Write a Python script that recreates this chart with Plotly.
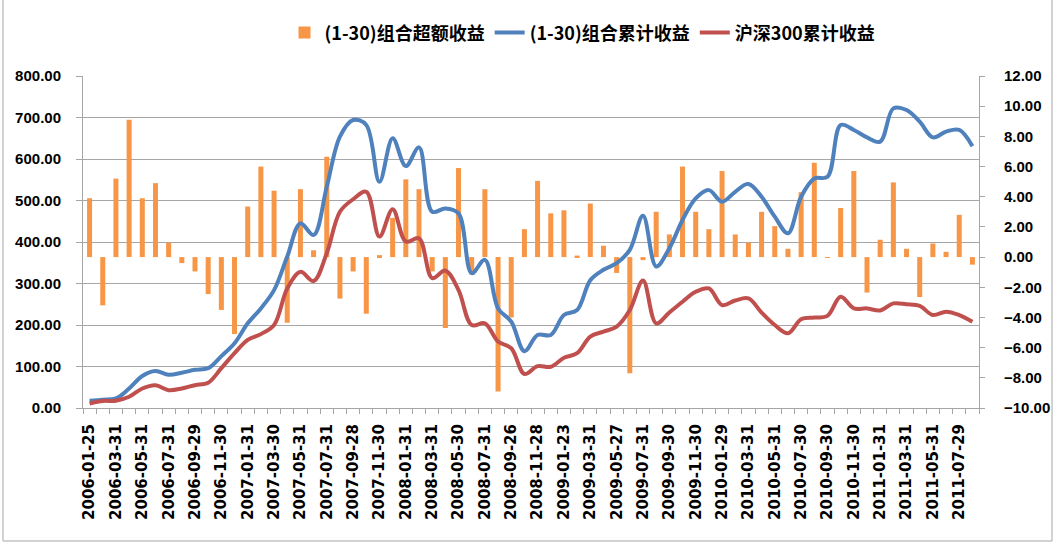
import plotly.graph_objects as go

dates = [
    "2006-01-25", "2006-02-28", "2006-03-31", "2006-04-28", "2006-05-31", "2006-06-30",
    "2006-07-31", "2006-08-31", "2006-09-29", "2006-10-31", "2006-11-30", "2006-12-29",
    "2007-01-31", "2007-02-28", "2007-03-30", "2007-04-30", "2007-05-31", "2007-06-29",
    "2007-07-31", "2007-08-31", "2007-09-28", "2007-10-31", "2007-11-30", "2007-12-28",
    "2008-01-31", "2008-02-29", "2008-03-31", "2008-04-30", "2008-05-30", "2008-06-30",
    "2008-07-31", "2008-08-29", "2008-09-26", "2008-10-31", "2008-11-28", "2008-12-31",
    "2009-01-23", "2009-02-27", "2009-03-31", "2009-04-30", "2009-05-27", "2009-06-30",
    "2009-07-31", "2009-08-31", "2009-09-30", "2009-10-30", "2009-11-30", "2009-12-31",
    "2010-01-29", "2010-02-26", "2010-03-31", "2010-04-30", "2010-05-31", "2010-06-30",
    "2010-07-30", "2010-08-31", "2010-09-30", "2010-10-29", "2010-11-30", "2010-12-31",
    "2011-01-31", "2011-02-28", "2011-03-31", "2011-04-29", "2011-05-31", "2011-06-30",
    "2011-07-29", "2011-08-31",
]

excess = [3.9, -3.2, 5.2, 9.1, 3.9, 4.9, 0.95, -0.4, -0.95, -2.45, -3.5, -5.1,
          3.35, 6.0, 4.4, -4.35, 4.5, 0.45, 6.65, -2.75, -0.95, -3.75, 0.13, 2.6,
          5.15, 4.5, -0.95, -4.7, 5.9, -1.15, 4.5, -8.9, -4.0, 1.85, 5.05, 2.9,
          3.1, 0.1, 3.55, 0.75, -1.05, -7.7, -0.2, 3.0, 1.5, 6.0, 3.0, 1.85,
          5.7, 1.5, 0.95, 3.0, 2.05, 0.55, 4.3, 6.25, -0.05, 3.25, 5.7, -2.35,
          1.15, 4.95, 0.55, -2.65, 0.9, 0.35, 2.8, -0.5]

portfolio_cum = [17.6, 20, 23, 47, 77, 89, 80, 85, 92, 96,
                 125, 156, 204, 240, 284, 365, 445, 417, 533, 654,
                 694, 682, 545, 650, 583, 628, 473, 481, 469, 325,
                 357, 240, 208, 137, 176, 176, 224, 236, 308, 333,
                 349, 381, 463, 341, 385, 453, 505, 525, 497, 521,
                 540, 509, 461, 421, 509, 553, 557, 682, 670, 652,
                 642, 722, 718, 690, 652, 666, 670, 631]

hs300_cum = [11, 17, 17.5, 27, 47, 55, 43, 47, 55, 61,
             96, 132, 164, 178, 200, 288, 328, 306, 373, 473,
             503, 521, 413, 479, 401, 409, 313, 331, 284, 200,
             204, 160, 144, 82, 101, 99.5, 121, 132, 172, 184,
             196, 236, 307, 204, 230, 256, 280, 288, 248, 259,
             264, 230, 200, 180, 214, 218, 222, 268, 240, 240,
             235, 252, 250, 246, 224, 232, 224, 208]

left_ticks = [0, 100, 200, 300, 400, 500, 600, 700, 800]
right_ticks = [-10, -8, -6, -4, -2, 0, 2, 4, 6, 8, 10, 12]

names = ["(1-30)组合超额收益", "(1-30)组合累计收益", "沪深300累计收益"]

tick_text = [d if i % 2 == 0 else "" for i, d in enumerate(dates)]

GRID = "#A6A6A6"

fig = go.Figure()
fig.add_trace(go.Bar(x=dates, y=excess, name=names[0], marker_color="#F79646",
                     marker_line_width=0, yaxis="y"))
fig.add_trace(go.Scatter(x=dates, y=portfolio_cum, name=names[1], mode="lines",
                         line=dict(color="#4F81BD", width=4, shape="spline", smoothing=1),
                         yaxis="y2"))
fig.add_trace(go.Scatter(x=dates, y=hs300_cum, name=names[2], mode="lines",
                         line=dict(color="#C0504D", width=4, shape="spline", smoothing=1),
                         yaxis="y2"))

tickfont_y = dict(family="Liberation Sans, Arial", size=15, color="black", weight="bold")

fig.update_layout(
    width=1059, height=543,
    margin=dict(l=83, r=80, t=76, b=135, autoexpand=False),
    paper_bgcolor="white", plot_bgcolor="white",
    bargap=0.62,
    showlegend=True,
    legend=dict(orientation="h", x=0.5575, xanchor="center", y=1.13, yanchor="middle",
                font=dict(family="Noto Sans CJK SC", size=18, color="black", weight="bold"),
                itemwidth=30, traceorder="normal"),
    xaxis=dict(type="category", tickmode="array", tickvals=dates, ticktext=tick_text,
               tickangle=-90, tickson="boundaries", ticks="outside", ticklen=5,
               tickcolor=GRID, showline=True, linecolor=GRID, linewidth=1,
               showgrid=False, ticklabelstandoff=9, automargin=False,
               tickfont=dict(family="DejaVu Sans", size=15, color="black", weight="bold")),
    yaxis=dict(side="right", range=[-10, 12], tickvals=right_ticks, tickformat=".2f",
               showgrid=False, zeroline=False, showline=True, linecolor=GRID,
               ticks="outside", ticklen=5, tickcolor=GRID, tickfont=tickfont_y,
               ticklabelstandoff=16, automargin=False),
    yaxis2=dict(side="left", overlaying="y", range=[0, 800], tickvals=left_ticks,
                tickformat=".2f", showgrid=True, gridcolor=GRID, gridwidth=1,
                zeroline=False, showline=True, linecolor=GRID, ticks="outside",
                ticklen=6, tickcolor=GRID, tickfont=tickfont_y, ticklabelstandoff=12,
                automargin=False),
    shapes=[dict(type="rect", xref="paper", yref="paper", x0=-0.0893, x1=1.0815,
                 y0=-0.4006, y1=1.26, line=dict(color=GRID, width=1))],
)

fig.write_html("out.html", config={"displayModeBar": False},
               post_script="document.body.style.margin='0';document.body.style.padding='0';")
